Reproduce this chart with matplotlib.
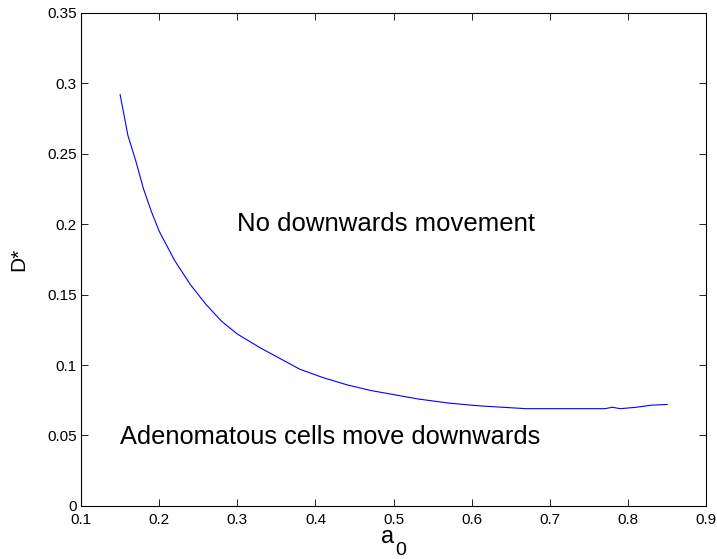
import matplotlib
matplotlib.use("Agg")
import matplotlib.pyplot as plt

plt.rcParams['font.family'] = ['Liberation Sans', 'DejaVu Sans']

# curve
a0 = [0.15, 0.16, 0.17, 0.18, 0.19, 0.20, 0.22, 0.24, 0.26, 0.28, 0.30, 0.33,
      0.36, 0.38, 0.41, 0.44, 0.47, 0.50, 0.53, 0.57, 0.61, 0.64, 0.67, 0.70,
      0.74, 0.77, 0.78, 0.79, 0.81, 0.83, 0.85]
d_star = [0.292, 0.263, 0.245, 0.225, 0.209, 0.195, 0.174, 0.157, 0.143, 0.131,
          0.122, 0.112, 0.103, 0.097, 0.091, 0.086, 0.082, 0.079, 0.076, 0.073,
          0.071, 0.070, 0.069, 0.069, 0.069, 0.069, 0.070, 0.069, 0.070, 0.0715,
          0.072]

xticks = [0.1, 0.2, 0.3, 0.4, 0.5, 0.6, 0.7, 0.8, 0.9]
xtick_labels = ['0.1', '0.2', '0.3', '0.4', '0.5', '0.6', '0.7', '0.8', '0.9']
yticks = [0, 0.05, 0.1, 0.15, 0.2, 0.25, 0.3, 0.35]
ytick_labels = ['0', '0.05', '0.1', '0.15', '0.2', '0.25', '0.3', '0.35']

fig = plt.figure(figsize=(7.17, 5.59), dpi=100)
ax = fig.add_axes([0.113, 0.095, 0.872, 0.882])

ax.plot(a0, d_star, color='blue', linewidth=0.8)

ax.set_xlim(0.1, 0.9)
ax.set_ylim(0, 0.35)
ax.set_xticks(xticks)
ax.set_xticklabels(xtick_labels)
ax.set_yticks(yticks)
ax.set_yticklabels(ytick_labels)
ax.tick_params(direction='in', top=True, right=True, length=5, width=0.6,
               labelsize=11, pad=3)
ax.tick_params(axis='x', pad=5)
for s in ax.spines.values():
    s.set_linewidth(0.8)

ax.text(0.3, 0.2, 'No downwards movement', fontsize=18.5, va='center', ha='left')
ax.text(0.15, 0.049, 'Adenomatous cells move downwards', fontsize=18.3,
        va='center', ha='left')

# x label "a" with a big, low subscript "0" like the original
ax.set_xlabel('a', fontsize=17)
ax.xaxis.label.set_va('baseline')
ax.xaxis.set_label_coords(0.491, -0.075)
ax.text(0.502, -0.1, '0', fontsize=14, transform=ax.transAxes,
        ha='left', va='baseline', clip_on=False)

ax.set_ylabel('D*', fontsize=15)
ax.yaxis.set_label_coords(-0.085, 0.5)

fig.savefig('out.png', dpi=100)
